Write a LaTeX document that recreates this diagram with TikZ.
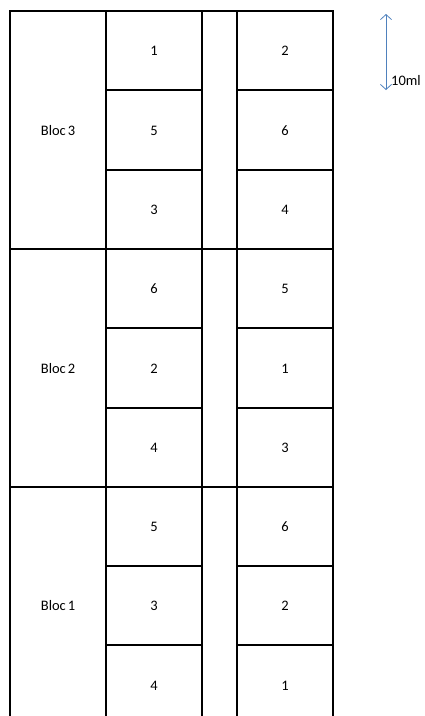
\documentclass[tikz,border=0pt]{standalone}
\usepackage{fontspec}
\setmainfont{Carlito}
\usetikzlibrary{arrows.meta}

\newcommand\blocname[1]{Bloc\hspace{0.13em}#1}

\tikzset{
  plotline/.style={line width=1.4pt, line cap=rect},
  plotlabel/.style={font=\fontsize{14.5}{16}\selectfont, inner sep=0pt},
  scalearrow/.style={color={rgb,255:red,79;green,129;blue,189}, line width=0.8pt,
    {Straight Barb[length=5pt,width=11pt]}-{Straight Barb[length=5pt,width=11pt]}}
}

\begin{document}
\begin{tikzpicture}[x=1pt, y=-1pt]
    \useasboundingbox (0,0) rectangle (425,716);
    \begin{scope}
      \clip (0,0) rectangle (425,716);
      % outer frame and columns
      \draw[plotline] (10,725) -- (10,11) -- (333,11) -- (333,725);
      \draw[plotline] (106,11) -- (106,725);
      \draw[plotline] (202,11) -- (202,725);
      \draw[plotline] (237,11) -- (237,725);
      % block borders
      \draw[plotline] (10,249) -- (333,249);
      \draw[plotline] (10,487) -- (333,487);
      % plot borders
      \foreach \y in {90,170,328,408,566,645} {
        \draw[plotline] (106,\y) -- (202,\y);
        \draw[plotline] (237,\y) -- (333,\y);
      }
    \end{scope}

    % treatments
    \foreach \i/\y/\a/\b in {1/51/1/2, 2/130.5/5/6, 3/210/3/4,
                            4/289/6/5, 5/368.5/2/1, 6/448/4/3,
                            7/527/5/6, 8/606/3/2, 9/685.5/4/1} {
      \node[plotlabel] (l\i) at (154,\y) {\a};
      \node[plotlabel] (r\i) at (285,\y) {\b};
    }

    % blocks
    \node[plotlabel] (bloc3) at (58,130.5) {\blocname{3}};
    \node[plotlabel] (bloc2) at (58,368.5) {\blocname{2}};
    \node[plotlabel] (bloc1) at (58,606) {\blocname{1}};

    % scale
    \coordinate (top) at (386,14);
    \coordinate (bot) at (386,90);
    \draw[scalearrow] (top) -- (bot);
    \node[plotlabel, anchor=base west] (scale) at (391,85) {10ml};
  \end{tikzpicture}
\end{document}
